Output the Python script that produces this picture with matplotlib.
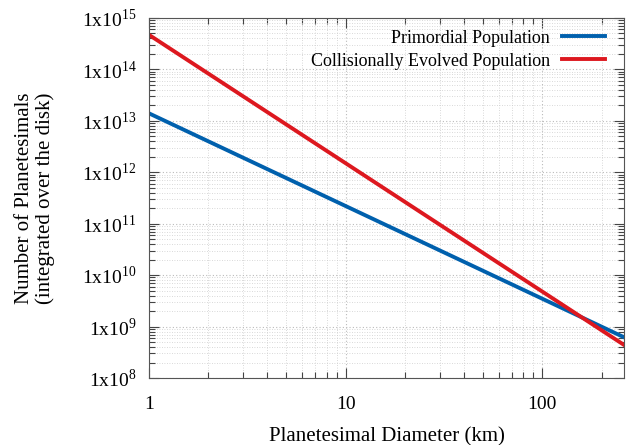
import math
import matplotlib
matplotlib.use("Agg")
import matplotlib.pyplot as plt
from matplotlib.ticker import LogLocator, FixedLocator, FuncFormatter, NullFormatter

plt.rcParams['font.family'] = ['Liberation Serif', 'DejaVu Serif']
plt.rcParams['mathtext.fontset'] = 'custom'
plt.rcParams['mathtext.rm'] = 'Liberation Serif'

diameters = [1, 260]
primordial = [1.4e13, 6.2e8]
evolved = [4.7e14, 4.4e8]
ytick_exps = [8, 9, 10, 11, 12, 13, 14, 15]
xticks = [1, 10, 100]

fig = plt.figure(figsize=(6.41, 4.45), dpi=100)
ax = fig.add_axes([149/641, 1-378/445, (624-149)/641, (378-18)/445])

ax.plot(diameters, primordial, color='#0060ad', lw=2.8, label='Primordial Population')
ax.plot(diameters, evolved, color='#dd181f', lw=2.8, label='Collisionally Evolved Population')

ax.set_xscale('log')
ax.set_yscale('log')
ax.set_xlim(1, 260)
ax.set_ylim(1e8, 1e15)

ax.yaxis.set_major_locator(FixedLocator([10.0**e for e in ytick_exps]))
ax.yaxis.set_major_formatter(FuncFormatter(lambda v, p: r'1x10$^{%d}$' % round(math.log10(v))))
ax.yaxis.set_minor_locator(LogLocator(base=10, subs=range(2, 10), numticks=50))
ax.yaxis.set_minor_formatter(NullFormatter())
ax.xaxis.set_major_locator(FixedLocator(xticks))
ax.xaxis.set_major_formatter(FuncFormatter(lambda v, p: '%d' % v))
ax.xaxis.set_minor_locator(LogLocator(base=10, subs=range(2, 10), numticks=50))
ax.xaxis.set_minor_formatter(NullFormatter())

ax.tick_params(which='both', direction='in', top=True, right=True, labelsize=14, colors='#444444')
ax.tick_params(which='major', length=7, pad=9, width=0.8)
ax.tick_params(which='minor', length=4, width=0.8)
ax.tick_params(axis='x', which='major', pad=13)
for lab in ax.get_xticklabels() + ax.get_yticklabels():
    lab.set_color('black')

ax.grid(which='major', color='#bbbbbb', linestyle=(0, (1, 2)), lw=0.8)
ax.grid(which='minor', color='#cccccc', linestyle=(0, (1, 2)), lw=0.6)
for s in ax.spines.values():
    s.set_color('#555555')
    s.set_linewidth(0.8)

ax.set_xlabel('Planetesimal Diameter (km)', fontsize=15, labelpad=10)
ax.set_ylabel('Number of Planetesimals\n(integrated over the disk)', fontsize=15, labelpad=19, linespacing=1.15)

ax.legend(loc='upper right', bbox_to_anchor=(0.975, 0.988), frameon=False, markerfirst=False, fontsize=13,
          handlelength=2.4, handletextpad=0.65, labelspacing=0.34, borderaxespad=0.0, borderpad=0.4)

fig.savefig('out.png', dpi=100)
